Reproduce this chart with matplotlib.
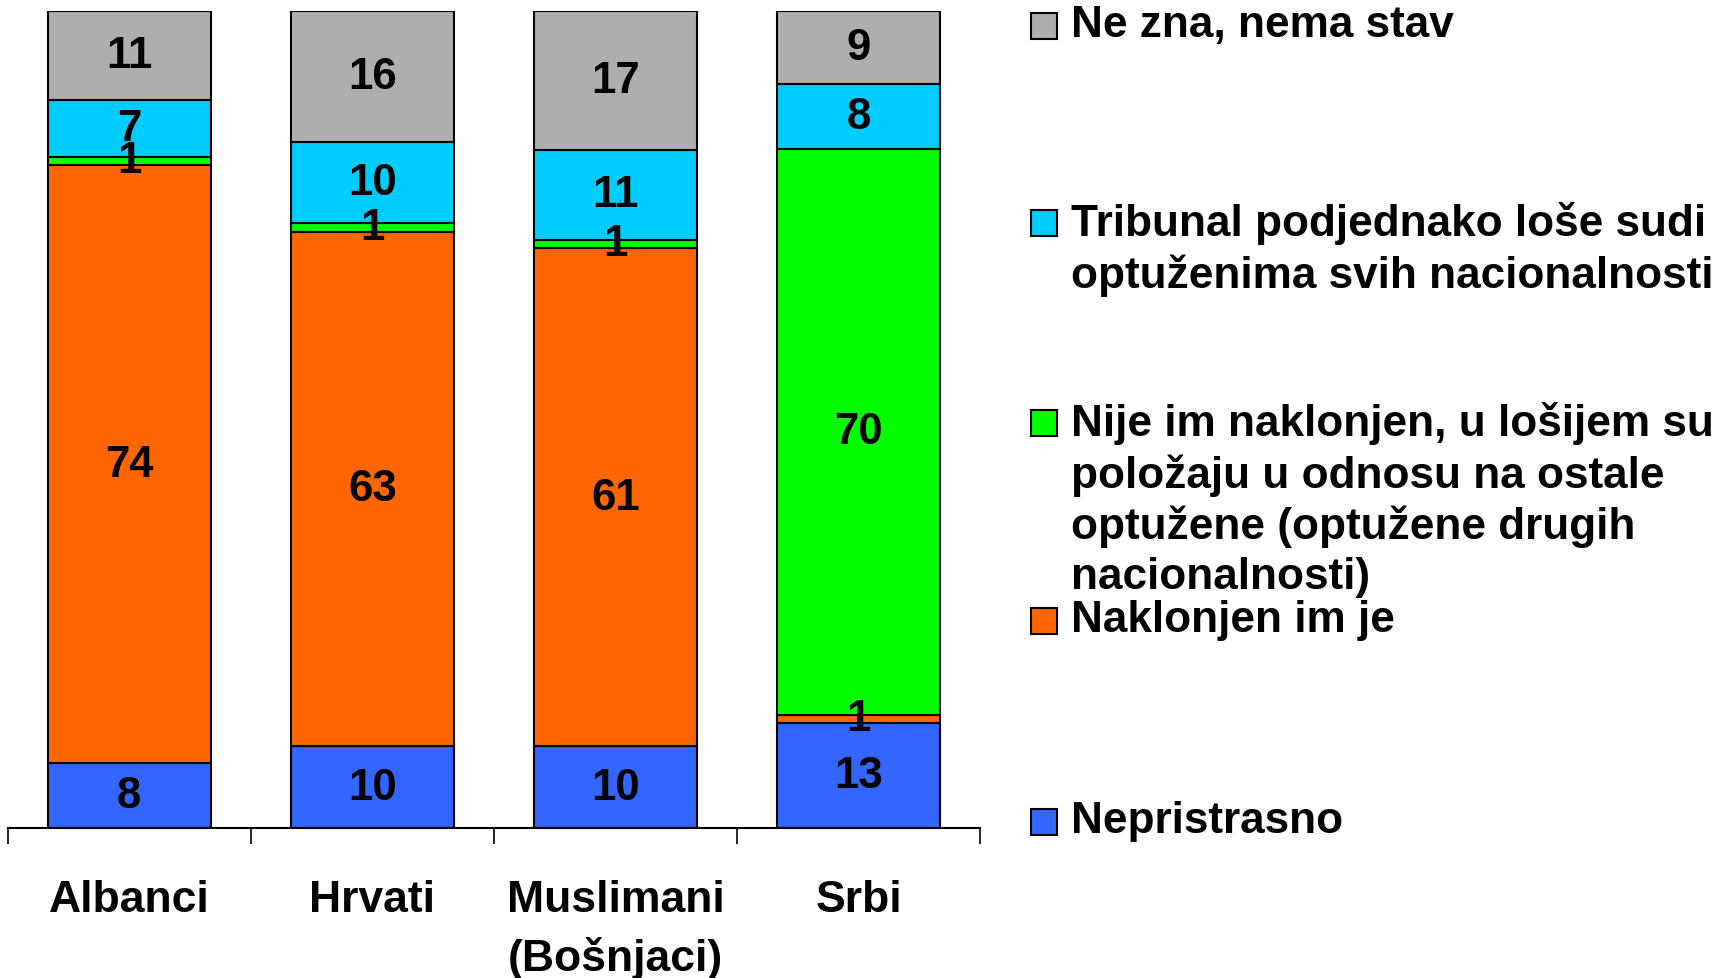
#!/usr/bin/env python
# Stacked 100% bars: opinion on the Tribunal by nationality

import matplotlib.pyplot as plt
from matplotlib.patches import Rectangle
import numpy as np

################################################################################
# Data
categories = ["Albanci", "Hrvati", "Muslimani\n(Bošnjaci)", "Srbi"]
series_names = [
    "Nepristrasno",
    "Naklonjen im je",
    "Nije im naklonjen, u lošijem su\npoložaju u odnosu na ostale\noptužene (optužene drugih\nnacionalnosti)",
    "Tribunal podjednako loše sudi\noptuženima svih nacionalnosti",
    "Ne zna, nema stav",
]
nepristrasno = [8, 10, 10, 13]
naklonjen = [74, 63, 61, 1]
nije_naklonjen = [1, 1, 1, 70]
podjednako_lose = [7, 10, 11, 8]
ne_zna = [11, 16, 17, 9]
################################################################################

COLORS = ["#3366FF", "#FF6600", "#00FF00", "#00CCFF", "#AEAEAE"]
FONT = "Liberation Sans"
FS = 31.5          # bar labels
FS_CAT = 32        # category labels
FS_LEG = 31.8      # legend

plt.rcParams['font.family'] = [FONT, 'DejaVu Sans']
plt.rcParams['font.weight'] = 'bold'

values = np.array([nepristrasno, naklonjen, nije_naklonjen,
                   podjednako_lose, ne_zna], dtype=float)
# each bar normalised to 100 %
shares = values / values.sum(axis=0) * 100

fig = plt.figure(figsize=(17.25, 9.79), dpi=100)
ax = fig.add_axes([0.0045, 0.1532, 0.5637, 0.8345])

x = np.arange(len(categories))
bottom = np.zeros(len(categories))
for i in range(len(series_names)):
    ax.bar(x, shares[i], bottom=bottom, width=0.67, color=COLORS[i],
           edgecolor="black", linewidth=1.5, zorder=2)
    for j in range(len(categories)):
        ax.text(x[j], bottom[j] + shares[i][j] / 2, "%d" % values[i][j],
                ha="center", va="center", fontsize=FS, fontweight="bold",
                zorder=3)
    bottom += shares[i]

ax.set_xlim(-0.5, len(categories) - 0.5)
ax.set_ylim(0, 100)
for s in ["top", "left", "right"]:
    ax.spines[s].set_visible(False)
ax.spines["bottom"].set_linewidth(1.5)
ax.set_yticks([])
ax.set_xticks(x)
ax.set_xticklabels(categories, fontsize=FS_CAT, fontweight="bold",
                   linespacing=1.45, va="top")
ax.tick_params(axis="x", which="major", length=0, pad=37)
ax.set_xticks(np.arange(-0.5, len(categories)), minor=True)
ax.tick_params(axis="x", which="minor", length=11.5, width=1.2)

################################################################################
# Legend drawn by hand (top to bottom), positions in pixels from top
H = 979.0
W = 1725.0
legend_y = [27, 224, 424, 622, 823]   # centre of first line of each entry
for k, idx in enumerate([4, 3, 2, 1, 0]):
    yc = legend_y[k]
    fig.patches.append(Rectangle((1031 / W, 1 - (yc + 13) / H), 26 / W, 26 / H,
                                 transform=fig.transFigure,
                                 facecolor=COLORS[idx], edgecolor="black",
                                 linewidth=1.5))
    fig.text(1071 / W, 1 - (yc - 22) / H, series_names[idx],
             ha="left", va="top", fontsize=FS_LEG, fontweight="bold",
             linespacing=1.27)

plt.savefig("out.png", dpi=100)
plt.close()
